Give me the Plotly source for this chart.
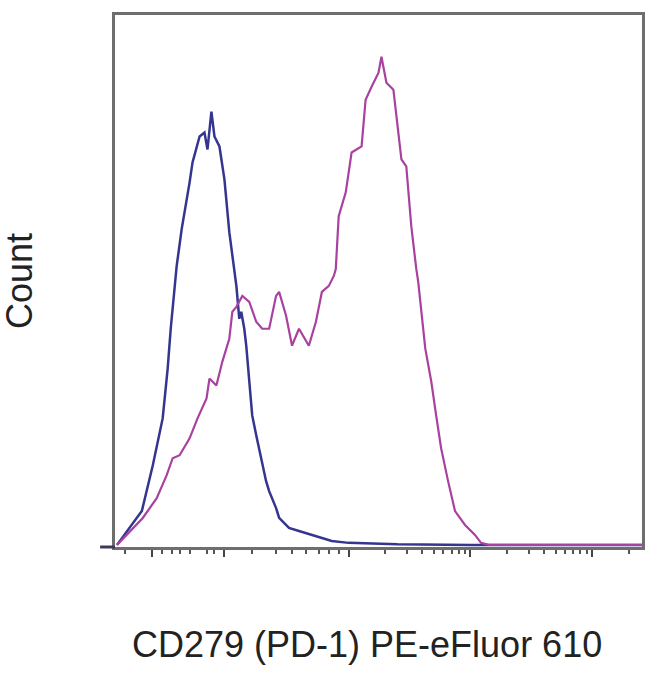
import plotly.graph_objects as go

# x in decade display units (biexponential-like display), y = Count (relative)
blue_x = [0.098, 0.302, 0.392, 0.473, 0.514, 0.539, 0.588, 0.629, 0.694, 0.718, 0.776, 0.816,
          0.841, 0.857, 0.873, 0.898, 0.939, 0.980, 1.020, 1.078, 1.102, 1.118, 1.143, 1.159,
          1.184, 1.208, 1.241, 1.265, 1.290, 1.322, 1.347, 1.404, 1.429, 1.486, 1.510, 1.592,
          1.731, 1.861, 2.000, 2.400, 3.000, 4.408]
blue_y = [0.0, 6.39, 15.04, 23.87, 33.27, 40.79, 52.63, 59.59, 68.42, 72.18, 77.07, 77.82,
          74.62, 78.95, 81.77, 77.07, 75.19, 68.98, 59.02, 48.87, 42.67, 43.98, 40.79, 37.59,
          30.08, 24.44, 20.68, 18.23, 15.04, 12.03, 10.15, 6.95, 5.08, 3.76, 3.20, 2.63,
          1.69, 0.75, 0.38, 0.10, 0.0, 0.0]

mag_x = [0.098, 0.204, 0.310, 0.424, 0.506, 0.555, 0.612, 0.694, 0.759, 0.833, 0.857, 0.914,
         0.963, 1.020, 1.045, 1.078, 1.127, 1.184, 1.241, 1.290, 1.347, 1.404, 1.429, 1.486,
         1.535, 1.592, 1.673, 1.731, 1.780, 1.837, 1.878, 1.894, 1.918, 1.976, 2.024, 2.106,
         2.139, 2.188, 2.245, 2.269, 2.310, 2.367, 2.408, 2.433, 2.473, 2.514, 2.555, 2.571,
         2.629, 2.678, 2.718, 2.759, 2.816, 2.873, 2.955, 3.037, 3.086, 3.150, 4.408]
mag_y = [0.0, 2.63, 5.08, 8.83, 13.16, 16.35, 16.92, 20.11, 23.87, 27.63, 31.39, 30.08,
         34.59, 38.91, 44.0, 44.92, 46.99, 45.86, 42.11, 40.79, 40.79, 46.99, 47.74, 43.23,
         37.59, 40.79, 37.59, 42.11, 47.74, 48.87, 50.75, 52.07, 62.03, 66.54, 74.06, 75.19,
         84.02, 86.47, 89.10, 92.11, 87.22, 85.90, 78.38, 72.74, 71.43, 60.15, 52.07, 49.62,
         37.03, 30.83, 24.44, 18.23, 12.03, 6.39, 3.76, 1.88, 0.38, 0.0, 0.0]

major_ticks = [0.384, 0.980, 2.0, 3.0, 4.0]
minor_ticks = [0.163, 0.465, 0.547, 0.612, 0.694, 0.833, 0.898,
               1.208, 1.404, 1.535, 1.649, 1.755, 1.837, 1.918,
               2.301, 2.477, 2.602, 2.699, 2.778, 2.845, 2.903, 2.954,
               3.301, 3.477, 3.602, 3.699, 3.778, 3.845, 3.903, 3.954,
               4.301]

x_title = "CD279 (PD-1) PE-eFluor 610"
y_title = "Count"

fig = go.Figure()
fig.add_trace(go.Scatter(x=blue_x, y=blue_y, mode="lines",
                         line=dict(color="#34358f", width=2.5), showlegend=False))
fig.add_trace(go.Scatter(x=mag_x, y=mag_y, mode="lines",
                         line=dict(color="#a8419f", width=2.2), showlegend=False))

fig.update_layout(
    width=650, height=682,
    margin=dict(l=115, r=5, t=15, b=135),
    paper_bgcolor="white", plot_bgcolor="white",
    xaxis=dict(range=[0.0816, 4.408], showgrid=False, zeroline=False,
               showline=True, linecolor="#6e6e6e", linewidth=3, mirror=True,
               tickmode="array", tickvals=major_ticks, ticktext=[""] * len(major_ticks),
               ticks="outside", ticklen=7, tickwidth=2, tickcolor="#444",
               minor=dict(tickmode="array", tickvals=minor_ticks, ticks="outside",
                          ticklen=4, tickwidth=2, tickcolor="#555"),
               layer="below traces"),
    yaxis=dict(range=[-0.4, 100], showgrid=False, zeroline=False,
               showline=True, linecolor="#6e6e6e", linewidth=3, mirror=True,
               showticklabels=False, ticks="", layer="below traces"),
    shapes=[dict(type="line", xref="paper", yref="paper", x0=-15 / 530, x1=0, y0=0, y1=0,
                 line=dict(color="#3a3a5a", width=3))],
    annotations=[
        dict(text=x_title, xref="paper", yref="paper", x=0.479, y=-0.184,
             xanchor="center", yanchor="middle", showarrow=False,
             font=dict(family="Liberation Sans, Arial", size=36, color="#222")),
        dict(text=y_title, xref="paper", yref="paper", x=-0.182, y=0.5, textangle=-90,
             xanchor="center", yanchor="middle", showarrow=False,
             font=dict(family="Liberation Sans, Arial", size=36, color="#222")),
    ],
)

fig.write_html("out.html", config={"displayModeBar": False},
               post_script="document.body.style.margin='0';document.body.style.overflow='hidden';")
